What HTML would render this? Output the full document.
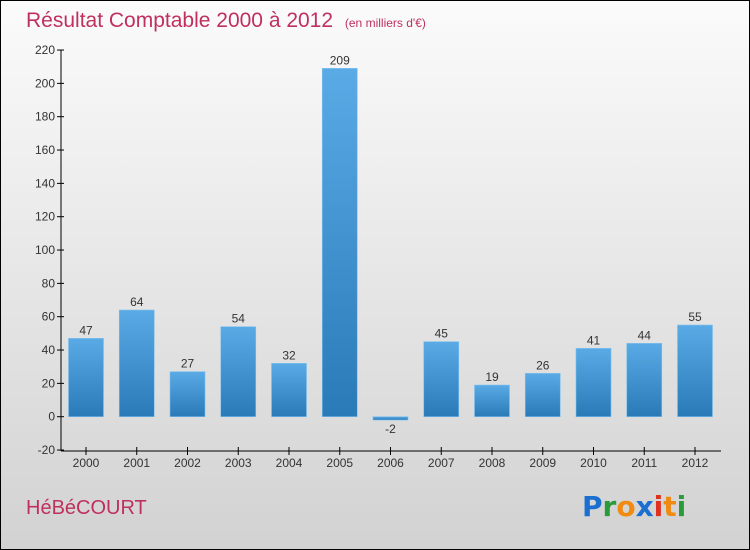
<!DOCTYPE html>
<html><head><meta charset="utf-8"><style>
html,body{margin:0;padding:0}
body{width:750px;height:550px;overflow:hidden;font-family:"Liberation Sans",sans-serif}
#frame{position:absolute;left:0;top:0;width:748px;height:548px;border:1px solid #000;background:linear-gradient(#fbfbfb,#d2d2d2)}
</style></head><body>
<div id="frame">
<svg id="c" width="750" height="550" style="position:absolute;left:-1px;top:-1px">
<defs><linearGradient id="g" x1="0" y1="0" x2="0" y2="1"><stop offset="0" stop-color="#5aaae6"/><stop offset="1" stop-color="#2a7ab8"/></linearGradient></defs>
<text x="26" y="27" font-size="21" fill="#c0305f">Résultat Comptable 2000 à 2012 <tspan font-size="12" dx="6">(en milliers d'€)</tspan></text>
<text x="26" y="514" font-size="20" fill="#c0305f">HéBéCOURT</text>
<g font-size="28" font-weight="bold" font-family="'DejaVu Sans',sans-serif">
<text x="582" y="516"><tspan fill="#1a6fd0">P</tspan><tspan fill="#2a9a3a">r</tspan><tspan fill="#f08a10">o</tspan><tspan fill="#1a6fd0">x</tspan><tspan fill="#e03020">i</tspan><tspan fill="#f08a10">t</tspan><tspan fill="#2a9a3a">i</tspan></text></g>
</svg></div>
<script>
const categories=["2000","2001","2002","2003","2004","2005","2006","2007","2008","2009","2010","2011","2012"];
const values=[47,64,27,54,32,209,-2,45,19,26,41,44,55];
const yTicks=[-20,0,20,40,60,80,100,120,140,160,180,200,220];
const svg=document.getElementById('c');const NS='http://www.w3.org/2000/svg';
const y=v=>416.7-v*(400/240);
const x=i=>86+i*50.75;
function el(t,a,p){const e=document.createElementNS(NS,t);for(const k in a)e.setAttribute(k,a[k]);(p||svg).appendChild(e);return e;}
const ax=el('line',{x1:61,y1:50,x2:61,y2:451,stroke:'#000'});


const bx=el('line',{x1:61,y1:451,x2:721,y2:451,stroke:'#000'});


yTicks.forEach(v=>{el('line',{x1:57,x2:64,y1:y(v),y2:y(v),stroke:'#000'});
const t=el('text',{x:55,y:y(v)+4,'font-size':12,fill:'#333','text-anchor':'end'});t.textContent=v;

});
categories.forEach((c,i)=>{const v=values[i];const cx=x(i);
el('line',{x1:cx,x2:cx,y1:447,y2:455,stroke:'#000'});
const t=el('text',{x:cx,y:467,'font-size':12,fill:'#333','text-anchor':'middle'});t.textContent=c;


const top=Math.min(y(v),y(0)),h=Math.abs(y(v)-y(0));
const r=el('rect',{x:cx-17.5,y:top,width:35,height:Math.max(h,1),fill:'url(#g)',stroke:'#7cc0ee','stroke-width':0.6});


const l=el('text',{x:cx,y:v>=0?y(v)-4:y(v)+13,'font-size':12,fill:'#333','text-anchor':'middle'});l.textContent=v;

});
</script>
</body></html>
